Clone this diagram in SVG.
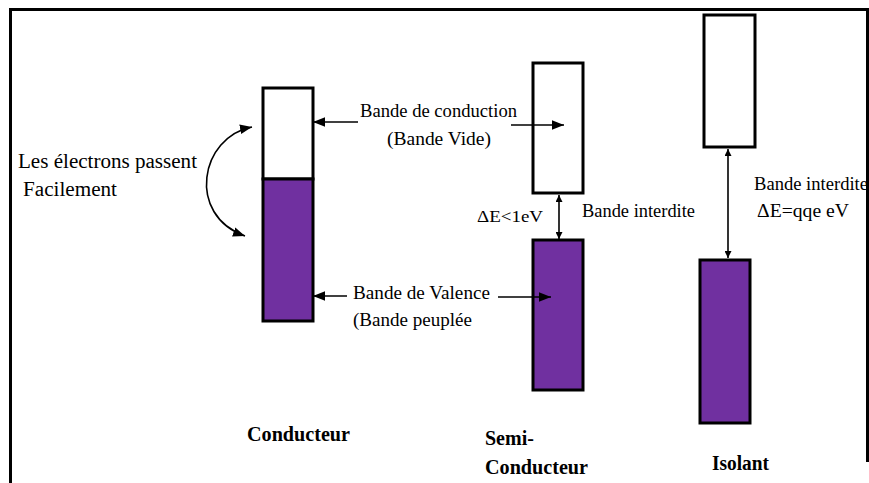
<svg xmlns="http://www.w3.org/2000/svg" width="869" height="483" viewBox="0 0 869 483">
<defs>
<style>
text{font-family:"Liberation Serif","DejaVu Serif",serif}
.t{font-size:18px;fill:#000}
.b{font-size:20px;font-weight:bold;fill:#000}
.box{stroke:#000;stroke-width:3}
.empty{fill:#fff}
.full{fill:#7030A0}
.ln{stroke:#000;stroke-width:1.6;fill:none}
</style>
<marker id="ah" viewBox="0 0 10 10" refX="10" refY="5" markerWidth="7" markerHeight="7" markerUnits="userSpaceOnUse" orient="auto-start-reverse">
<path d="M0,0 L10,5 L0,10 z" fill="#000"/>
</marker>
<marker id="ahl" viewBox="0 0 10 10" refX="10" refY="5" markerWidth="12" markerHeight="12" markerUnits="userSpaceOnUse" orient="auto-start-reverse">
<path d="M0,1 L10,5 L0,9 z" fill="#000"/>
</marker>
</defs>
<rect width="869" height="483" fill="#fff"/>
<g id="frame">
<path d="M10.5,483 V9.5 H867.5 V462" fill="none" stroke="#000" stroke-width="3"/>
</g>
<g id="conducteur">
<rect class="box empty" x="263" y="88" width="50" height="91"/>
<rect class="box full" x="263" y="179" width="50" height="142"/>
<text class="b" x="247" y="441" textLength="103" lengthAdjust="spacingAndGlyphs">Conducteur</text>
</g>
<g id="semi-conducteur">
<rect class="box empty" x="533" y="63" width="50" height="130"/>
<rect class="box full" x="533" y="240" width="50" height="150"/>
<text class="b" x="485" y="445">Semi-</text>
<text class="b" x="485" y="474" textLength="103" lengthAdjust="spacingAndGlyphs">Conducteur</text>
</g>
<g id="isolant">
<rect class="box empty" x="704" y="15" width="51" height="132"/>
<rect class="box full" x="700" y="260" width="50" height="163"/>
<text class="b" x="712" y="470" textLength="57" lengthAdjust="spacingAndGlyphs">Isolant</text>
</g>
<g id="labels">
<text class="t" x="18" y="168" textLength="179" lengthAdjust="spacingAndGlyphs" style="font-size:20px">Les électrons passent</text>
<text class="t" x="23" y="196" textLength="94" lengthAdjust="spacingAndGlyphs" style="font-size:20px">Facilement</text>
<text class="t" x="360" y="117" textLength="157" lengthAdjust="spacingAndGlyphs">Bande de conduction</text>
<text class="t" x="387" y="145" textLength="104" lengthAdjust="spacingAndGlyphs">(Bande Vide)</text>
<text class="t" x="353" y="299" textLength="137" lengthAdjust="spacingAndGlyphs">Bande de Valence</text>
<text class="t" x="353" y="326" textLength="119" lengthAdjust="spacingAndGlyphs">(Bande peuplée</text>
<text class="t" x="477" y="222" textLength="66" lengthAdjust="spacingAndGlyphs" style="font-size:17px">ΔE&lt;1eV</text>
<text class="t" x="582" y="217" textLength="113" lengthAdjust="spacingAndGlyphs">Bande interdite</text>
<text class="t" x="754" y="190" textLength="114" lengthAdjust="spacingAndGlyphs">Bande interdite</text>
<text class="t" x="757" y="217" textLength="92" lengthAdjust="spacingAndGlyphs">ΔE=qqe eV</text>
</g>
<g id="connectors">
<path class="ln" d="M252,127 C200,137 186,215 245,236" marker-start="url(#ahl)" marker-end="url(#ahl)"/>
<line class="ln" x1="358" y1="122" x2="313" y2="122" marker-end="url(#ahl)"/>
<line class="ln" x1="511" y1="125" x2="564" y2="125" marker-end="url(#ahl)"/>
<line class="ln" x1="347" y1="296" x2="313" y2="296" marker-end="url(#ahl)"/>
<line class="ln" x1="498" y1="297" x2="551" y2="297" marker-end="url(#ahl)"/>
<line class="ln" x1="559" y1="195" x2="559" y2="239" marker-start="url(#ah)" marker-end="url(#ah)"/>
<line class="ln" x1="728" y1="149" x2="728" y2="258" marker-start="url(#ah)" marker-end="url(#ah)"/>
</g>
</svg>
